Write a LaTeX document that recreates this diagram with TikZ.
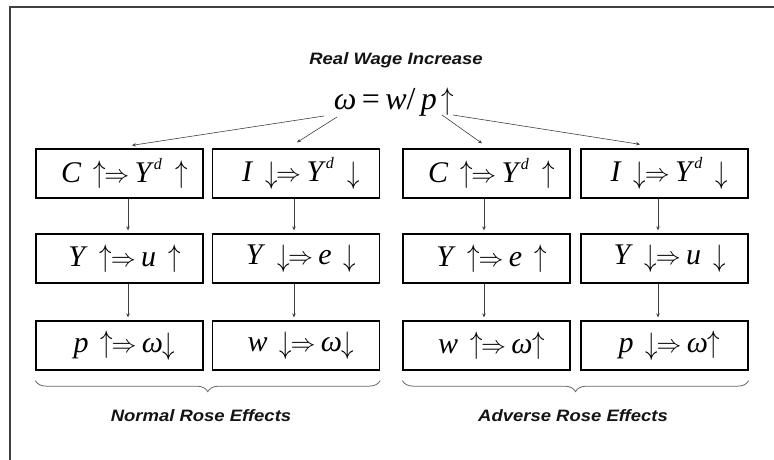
\documentclass[tikz,border=0pt]{standalone}
\usepackage{fontspec}
\usepackage{graphicx}
\setmainfont{Liberation Serif}
\newfontfamily\lsans[FakeStretch=1.12]{Liberation Sans}
\usetikzlibrary{decorations.pathreplacing,arrows.meta}
\newcommand{\upa}{\scalebox{1}[1.25]{$\uparrow$}}
\newcommand{\dna}{\raisebox{-0.05em}{\scalebox{1}[1.25]{$\downarrow$}}}
\newcommand{\imp}{\hspace{-0.05em}$\Rightarrow$}
\newcommand{\ga}{\hspace{0.4em}}
\newcommand{\gb}{\hspace{0.18em}}
\newcommand{\gc}{\hspace{0.45em}}
\newcommand{\supd}{\raisebox{0.42em}{\fontsize{16}{16}\selectfont\textit{d}}}
\tikzset{
  effbox/.style={draw=black,line width=1.3pt,minimum width=167pt,minimum height=49pt,inner sep=0pt,
     font=\fontsize{30}{32}\selectfont,execute at begin node={\hspace{10pt}}},
  conn/.style={draw=black!75,line width=0.6pt,-{Stealth[length=4pt,width=3.5pt]}},
  lbl/.style={font=\lsans\bfseries\itshape\fontsize{16.5}{18}\selectfont,text=black!92},
  brc/.style={draw=black!60,line width=0.8pt,decorate,decoration={brace,mirror,amplitude=11pt}},
  frame/.style={draw=black!75,line width=2pt}
}
\begin{document}
\begin{tikzpicture}[x=1pt,y=-1pt]
\useasboundingbox (0,0) rectangle (774,460);
\draw[frame] (10,460) coordinate (fb) -- (10,7.5) coordinate (fc) -- (774,7.5) coordinate (fr);
\node[lbl] (title) at (396,60) {Real Wage Increase};
\node[font=\fontsize{32}{34}\selectfont,inner sep=0pt] (f) at (394,102) {\textit{ω}\,=\,\textit{w}/\,\textit{p}\hspace{0.15em}\upa};
% row 1
\node[effbox] (b11) at (119.5,173.5) {\textit{C}\ga\upa\imp\gb\textit{Y}\supd\gc\upa};
\node[effbox] (b12) at (296,173.5) {\textit{I}\ga\dna\imp\gb\textit{Y}\supd\gc\dna};
\node[effbox] (b13) at (486.5,173.5) {\textit{C}\ga\upa\imp\gb\textit{Y}\supd\gc\upa};
\node[effbox] (b14) at (664.5,173.5) {\textit{I}\ga\dna\imp\gb\textit{Y}\supd\gc\dna};
% row 2
\node[effbox] (b21) at (119.5,258.5) {\textit{Y}\ga\upa\imp\gb\textit{u}\ga\upa};
\node[effbox] (b22) at (296,258.5) {\textit{Y}\ga\dna\imp\gb\textit{e}\ga\dna};
\node[effbox] (b23) at (486.5,258.5) {\textit{Y}\ga\upa\imp\gb\textit{e}\ga\upa};
\node[effbox] (b24) at (664.5,258.5) {\textit{Y}\ga\dna\imp\gb\textit{u}\ga\dna};
% row 3
\node[effbox] (b31) at (119.5,345.5) {\textit{p}\ga\upa\imp\gb\textit{ω}\dna};
\node[effbox] (b32) at (296,345.5) {\textit{w}\ga\dna\imp\gb\textit{ω}\dna};
\node[effbox] (b33) at (486.5,345.5) {\textit{w}\ga\upa\imp\gb\textit{ω}\upa};
\node[effbox] (b34) at (664.5,345.5) {\textit{p}\ga\dna\imp\gb\textit{ω}\upa};
% top connectors
\draw[conn] ([shift={(-70pt,-14pt)}]f.center) -- ([shift={(12.5pt,3pt)}]b11.north);
\draw[conn] ([shift={(-57pt,-15pt)}]f.center) -- ([shift={(1pt,6pt)}]b12.north);
\draw[conn] ([shift={(48pt,-13pt)}]f.center) -- ([shift={(-4.5pt,5pt)}]b13.north);
\draw[conn] ([shift={(59pt,-13pt)}]f.center) -- ([shift={(-24.5pt,4pt)}]b14.north);
% vertical connectors
\draw[conn] ([xshift=8.5pt]b11.south) -- ([xshift=8.5pt,yshift=3pt]b21.north);
\draw[conn] ([xshift=-2pt]b12.south) -- ([xshift=-2pt,yshift=3pt]b22.north);
\draw[conn] ([xshift=-2.5pt]b13.south) -- ([xshift=-2.5pt,yshift=3pt]b23.north);
\draw[conn] ([xshift=-6.5pt]b14.south) -- ([xshift=-6.5pt,yshift=3pt]b24.north);
\draw[conn] ([xshift=8.5pt]b21.south) -- ([xshift=8.5pt,yshift=3pt]b31.north);
\draw[conn] ([xshift=-2pt]b22.south) -- ([xshift=-2pt,yshift=3pt]b32.north);
\draw[conn] ([xshift=-2.5pt]b23.south) -- ([xshift=-2.5pt,yshift=3pt]b33.north);
\draw[conn] ([xshift=-6.5pt]b24.south) -- ([xshift=-6.5pt,yshift=3pt]b34.north);
% braces
\draw[brc] ([yshift=-10pt]b31.south west) -- ([yshift=-10pt]b32.south east) node[midway,coordinate] (bn) {};
\draw[brc] ([yshift=-10pt]b33.south west) -- ([yshift=-10pt]b34.south east) node[midway,coordinate] (ba) {};
\node[lbl] (ln) at (201,416) {Normal Rose Effects};
\node[lbl] (la) at (573,416) {Adverse Rose Effects};
\end{tikzpicture}
\end{document}
